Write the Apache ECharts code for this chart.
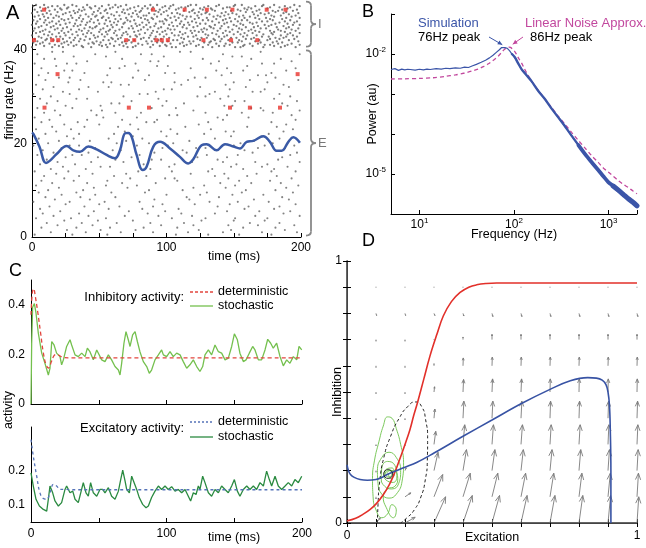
<!DOCTYPE html>
<html><head><meta charset="utf-8">
<script src="https://cdn.jsdelivr.net/npm/echarts@6/dist/echarts.min.js"></script>
<style>html,body{margin:0;padding:0;background:#fff}#c{width:646px;height:548px}</style>
</head><body><div id="c"></div>
<script>
// ---------- Panel A : raster (rows: firing rate, spike times in ms) ----------
const rasterRowsI = [
 [49.5,[3,9,24,30,41,57,62,70,88,93,105,118,122,139,151,156,172,180,195]],
 [49.25,[1,15,19,33,47,52,66,79,84,99,103,116,131,137,150,166,171,188,199]],
 [49.0,[6,12,27,38,43,60,64,76,90,97,111,114,128,145,147,161,177,184,192]],
 [48.75,[10,21,26,44,50,58,73,82,86,102,109,125,133,142,158,163,175,190]],
 [48.5,[2,17,22,35,39,55,68,71,89,95,107,120,127,134,153,160,169,186,197]],
 [48.25,[7,13,31,37,49,54,77,81,92,100,113,119,136,148,155,167,179,183,194]],
 [48.0,[4,19,28,34,46,63,67,80,94,98,117,124,130,144,159,164,181,189]],
 [47.75,[0,11,25,32,51,56,69,75,87,104,108,121,129,141,149,170,176,187,198]],
 [47.5,[8,14,23,40,45,59,72,78,91,96,110,126,132,146,152,165,173,191]],
 [47.25,[5,18,29,36,48,61,65,83,85,101,112,123,138,143,157,168,178,185,196]],
 [47.0,[2,9,20,42,47,53,74,79,93,106,115,118,135,140,154,162,180,193]],
 [46.75,[12,16,30,35,52,57,70,81,89,103,109,124,130,147,158,166,174,189,199]],
 [46.5,[6,22,27,38,44,62,66,84,90,99,114,121,137,144,151,169,177,186]],
 [46.25,[1,10,24,33,49,55,71,76,86,100,107,127,131,142,156,160,179,192]],
 [46.0,[4,15,20,37,43,58,64,73,95,97,111,119,134,148,153,171,175,188,197]],
 [45.75,[9,13,28,41,46,61,69,82,87,104,116,122,139,145,162,167,184,195]],
 [45.5,[3,18,25,32,50,54,68,77,92,98,110,125,129,143,155,164,181,190]],
 [45.25,[0,11,21,36,40,59,63,80,85,102,113,117,136,150,157,173,178,194,199]],
 [45.0,[7,16,31,34,48,56,74,78,91,105,108,123,132,141,152,168,176,187]],
 [44.75,[5,14,26,43,47,60,67,83,88,96,112,120,133,146,159,165,182,191]],
 [44.5,[2,19,23,39,45,53,72,75,94,101,115,128,135,140,154,170,174,189,198]],
 [44.25,[10,17,29,35,51,58,65,81,86,103,106,126,130,149,156,163,183,193]],
 [44.0,[1,8,22,37,42,57,62,79,90,99,118,121,138,144,161,166,177,185,196]],
 [43.75,[6,13,27,33,50,55,70,76,93,97,110,124,127,147,153,169,180,188]],
 [43.5,[3,20,24,41,44,61,68,84,89,104,114,119,134,142,158,164,178,192,199]],
 [43.25,[9,15,30,38,52,56,71,80,95,100,112,129,137,150,155,172,179,190]],
 [43.0,[0,12,25,34,46,63,67,77,88,106,109,122,131,145,160,167,185,194]],
 [42.75,[5,18,21,40,49,54,73,78,92,98,116,120,139,143,157,171,176,189,197]],
 [42.5,[7,14,28,32,47,59,66,83,87,102,111,126,130,148,152,165,181,187]],
 [42.25,[2,11,23,36,43,60,64,81,91,96,113,123,135,141,159,163,177,184,195]],
 [42.0,[10,16,31,39,53,57,72,76,94,105,108,125,136,146,154,169,175,191]],
 [41.75,[4,19,26,35,48,62,69,85,89,101,117,120,133,140,156,166,182,198]],
 [41.5,[1,8,24,29,45,51,67,74,93,97,112,128,132,149,153,170,179,186]],
 [41.25,[6,13,22,42,46,58,70,79,86,103,110,118,137,144,162,168,183,193]],
 [41.0,[3,17,27,33,50,55,65,82,90,99,115,124,131,147,158,173,177,190,199]],
 [40.75,[9,20,31,37,52,61,68,77,95,100,113,122,139,143,157,164,180,188]],
 [40.5,[0,15,23,38,44,56,71,75,88,104,107,127,134,151,155,172,185,196]]
];
const rasterRowsE = [
 [39.5,[15,23,62,110,118,170]],[39.0,[4,47,81,89,142,199]],[38.5,[31,55,98,149,156]],
 [38.0,[9,17,67,127,163,185]],[37.5,[41,88,94,139,193]],[37.0,[2,26,33,77,133,171,180]],
 [36.5,[18,69,93,101,160]],[36.0,[7,58,65,118,145,196]],[35.5,[24,30,79,137,157,189]],
 [35.0,[12,39,99,106,148,178]],[34.5,[5,56,87,141,168,174]],[34.0,[20,28,75,121,129,181]],
 [33.5,[10,36,84,116,162,198]],[33.0,[27,53,59,106,150,175]],[32.5,[3,66,72,111,144,187]],
 [32.0,[16,42,57,125,159,191]],[31.5,[8,35,98,104,147,173]],[31.0,[23,49,92,136,164,170]],
 [30.5,[1,28,80,86,132,184]],[30.0,[14,68,123,129,146,192]],[29.5,[6,33,41,94,140,180]],
 [29.0,[19,74,100,151,158,197]],[28.5,[11,59,65,113,186]],[28.0,[25,51,97,143,149,190]],
 [27.5,[4,30,89,107,163,170]],[27.0,[17,44,52,120,172,199]],[26.5,[9,62,81,129,156,179]],
 [26.0,[21,48,102,108,145,193]],[25.5,[2,53,78,138,161]],[25.0,[13,41,67,93,142,196]],
 [24.5,[7,34,85,91,131,178]],[24.0,[24,50,73,124,189]],[23.5,[15,39,64,114,160,182]],
 [23.0,[3,29,79,103,133,194]],[22.5,[18,69,96,144,150,187]],[22.0,[10,35,61,108,128,176]],
 [21.5,[26,75,100,148,171]],[21.0,[5,31,57,82,136,184]],[20.5,[20,43,70,117,165,191]],
 [20.0,[12,63,87,105,155,179]],[19.5,[1,28,35,78,101,150,173,195]],[19.0,[22,47,97,122,129,168,188]],
 [18.5,[8,60,66,112,158,181]],[18.0,[16,42,91,115,164,197]],[17.5,[4,30,37,80,130,153,192]],
 [17.0,[25,49,74,123,145,186]],[16.5,[11,62,89,96,138,183]],[16.0,[19,44,68,119,142,166,199]],
 [15.5,[6,32,83,106,152,175]],[15.0,[23,51,58,102,148,171,190]],[14.5,[14,40,88,134,157,180]],
 [14.0,[2,27,79,104,131,178,196]],[13.5,[18,45,70,118,143,167]],[13.0,[9,35,61,85,136,160,182]],
 [12.5,[24,73,99,106,146,193]],[12.0,[7,31,56,108,154,177]],[11.5,[15,41,67,92,140,163,185]],
 [11.0,[3,55,78,128,151,198]],[10.5,[20,46,71,120,144,189]],[10.0,[12,38,87,112,159,181]],
 [9.5,[5,33,59,84,130,156,194]],[9.0,[22,47,100,125,149,172]],[8.5,[10,36,62,115,139,186]],
 [8.0,[17,43,91,117,165,191]],[7.5,[1,28,54,80,132,153,176]],[7.0,[25,50,97,121,147,196]],
 [6.5,[13,39,65,90,138,161,184]],[6.0,[6,57,82,109,158,180]],[5.5,[21,46,72,99,145,169,192]],
 [5.0,[8,35,86,111,136,187]],[4.5,[16,42,69,94,119,166,199]],[4.0,[3,29,55,104,129,151,175]],
 [3.5,[24,49,75,126,150,173]],[3.0,[11,37,63,88,113,162,184]],[2.5,[19,45,96,120,146,168,195]],
 [2.0,[7,33,58,83,108,157,181]],[1.5,[26,51,77,124,148,188]],[1.0,[14,40,66,90,116,142,171,197]],
 [0.5,[2,30,56,107,131,154,178]]
];
const redSpikes = [[9,48.5],[90,48.5],[113.5,48.5],[130,48.5],[149,48.5],[174.5,48.5],[188.5,48.5],
 [1.5,42],[15,42],[19.5,42],[70,42],[76,42],[92.5,42],[96.5,42],[101,42],[127.5,42],[148,42],[167.5,42],
 [19,34.75],[197.5,34.75],[9.3,27.6],[72,27.6],[87,27.6],[147.2,27.6],[162,27.6],[184.4,27.6]];
const rateT = [0,1,5.5,10.4,13.4,18.3,25.8,30.7,35.7,41.9,48.1,55.5,61.7,65.4,69.1,71.6,74.1,77.8,82.3,85.2,90.2,95.2,102.6,110,116.2,119.9,126.1,129.8,137.3,143.5,149.7,154.6,159.6,164.5,172,176.9,181.9,185.6,190.6,194.3,199.2];
const rateV = [22.3,22.0,19.3,15.8,16.3,17.7,19.4,18.5,18.2,19.3,18.7,17.5,16.8,18.5,22.1,22.2,21.4,17.5,14.3,15.0,19.3,20.3,18.9,17.1,15.7,16.6,19.6,19.8,18.5,19.8,19.3,18.9,20.3,20.5,21.5,20.3,18.4,18.4,20.3,21.3,20.1];

// ---------- Panel B : power spectra ----------
const simF = [5,5.5,6,6.5,7,7.5,8,9,10,11,12,13,15,17,19,21,24,27,30,33,36,40,45,50,55,60,65,70,74,77,80,85,90,95,102,110,120,135,153,180,212,250,294,350,406,480,562,660,778,880,993,1120,1260,1430,1620,1800,2000];
const simP = [4.1e-3,4.3e-3,3.9e-3,4.2e-3,4.0e-3,4.15e-3,4.1e-3,3.95e-3,4.15e-3,4.0e-3,4.2e-3,4.1e-3,4.3e-3,4.2e-3,4.4e-3,4.3e-3,4.5e-3,4.4e-3,4.7e-3,4.6e-3,5.0e-3,5.5e-3,6.2e-3,7.0e-3,8.0e-3,9.3e-3,1.1e-2,1.28e-2,1.45e-2,1.52e-2,1.45e-2,1.38e-2,1.2e-2,1.0e-2,8.3e-3,6.0e-3,4.2e-3,3.0e-3,2.1e-3,1.2e-3,7.5e-4,4.3e-4,2.6e-4,1.5e-4,9.1e-5,5.3e-5,3.2e-5,2.0e-5,1.26e-5,8.8e-6,6.3e-6,5.0e-6,4.0e-6,3.1e-6,2.4e-6,2.0e-6,1.6e-6];
const lnaF = [5,7,10,14,18.5,24,30,36,42,48,53,58,63,68,74,79,84,88,92,97,102,107,113,120,127,140,153,180,212,250,294,350,406,480,562,660,778,880,993,1120,1260,1430,1620,1800,2000];
const lnaP = [2.37e-3,2.4e-3,2.45e-3,2.55e-3,2.75e-3,3.0e-3,3.35e-3,3.75e-3,4.22e-3,4.9e-3,5.6e-3,6.5e-3,7.5e-3,8.8e-3,1.1e-2,1.3e-2,1.42e-2,1.48e-2,1.46e-2,1.3e-2,1.15e-2,9.5e-3,7.5e-3,6.0e-3,4.6e-3,3.0e-3,2.14e-3,1.25e-3,7.5e-4,4.6e-4,2.8e-4,1.7e-4,1.1e-4,6.9e-5,4.5e-5,2.9e-5,1.95e-5,1.42e-5,1.12e-5,8.8e-6,6.9e-6,5.5e-6,4.6e-6,3.8e-6,3.2e-6];
const bXTicks = [10,100,1000];
const bYLabels = [-2,-5];

// ---------- Panel C : activity time courses ----------
const inhDetT = [0,1,2,3,5,7,9,11,13,15,17,19,21,24,30,200];
const inhDetV = [0.36,0.45,0.465,0.44,0.37,0.29,0.21,0.16,0.145,0.17,0.195,0.2,0.195,0.187,0.186,0.186];
const inhStoT = [0,0.5,1.2,2.5,3.7,5.4,7.9,10.3,12.8,14,15.3,17,18.9,21.4,22.6,23.9,26.3,28.8,30,32.5,34.9,37.4,39.9,41.6,43.5,46,48.5,49.7,52.2,54.6,57.1,59.5,62,64.5,65.7,66.9,68.6,70.1,71.8,73.1,75,76.8,78.5,80.4,82.9,85.4,87.3,89,91.5,94,96.4,97.7,100.1,102.6,105,107.5,110,112.4,114.9,117.3,119.8,122.3,124.7,126.7,128.4,130.9,133.3,135.8,138.3,140.7,143.2,145.6,148.1,150.1,152.3,154.2,156.7,158.7,161.1,163.6,165.3,167.8,170.2,172.7,174.7,176.9,178.8,181.3,183.8,186.2,188.7,191.1,193.6,196.1,197.8,199.8];
const inhStoV = [0,0.245,0.39,0.405,0.366,0.286,0.205,0.164,0.117,0.144,0.252,0.238,0.205,0.191,0.158,0.178,0.232,0.259,0.238,0.198,0.191,0.205,0.191,0.225,0.211,0.178,0.218,0.211,0.178,0.171,0.198,0.178,0.151,0.137,0.117,0.164,0.245,0.292,0.259,0.232,0.279,0.292,0.252,0.211,0.171,0.151,0.124,0.137,0.178,0.198,0.218,0.198,0.191,0.211,0.191,0.205,0.198,0.171,0.144,0.158,0.178,0.151,0.131,0.151,0.198,0.218,0.198,0.238,0.211,0.205,0.178,0.185,0.232,0.283,0.259,0.205,0.171,0.178,0.205,0.232,0.218,0.178,0.178,0.218,0.261,0.245,0.225,0.245,0.191,0.154,0.178,0.164,0.191,0.178,0.232,0.218];
const excDetT = [0,1.7,4.2,6.6,9.1,11.6,14,16.5,18.9,21.4,25,30,200];
const excDetV = [0.293,0.244,0.185,0.136,0.119,0.117,0.136,0.161,0.156,0.146,0.146,0.145,0.145];
const excStoT = [0,1.7,3.7,6.2,9.1,11.6,12.8,14,16,17.7,20.2,22.6,25.1,26.3,28.8,30.8,32.5,34.9,36.7,38.6,40.6,42.3,44,46,48.5,50.9,52.9,54.6,57.1,59.5,62,64.5,66.2,67.7,69.4,70.6,72.6,74.3,75.5,78,79.9,82.4,84.9,86.6,89,91.5,94,96.4,98.9,101.3,103.8,106.3,108.7,111.2,113.7,116.1,117.8,119.8,121.8,123.5,124.7,126.7,128.4,130.9,133.3,135.8,138.3,140.7,143.2,145.6,148.1,150.1,152.3,154.2,156.7,159.2,161.6,164.1,166.5,169,171.5,173.9,175.9,177.6,180.1,182.5,185,187.5,189.9,192.4,194.8,197.3,199.8];
const excStoV = [0.195,0.156,0.117,0.097,0.087,0.082,0.117,0.156,0.136,0.112,0.097,0.107,0.146,0.156,0.136,0.141,0.117,0.107,0.136,0.166,0.136,0.126,0.166,0.136,0.126,0.146,0.146,0.136,0.151,0.126,0.117,0.141,0.175,0.203,0.171,0.146,0.136,0.185,0.187,0.146,0.122,0.102,0.092,0.097,0.122,0.141,0.156,0.146,0.156,0.146,0.154,0.141,0.146,0.136,0.146,0.126,0.112,0.136,0.131,0.156,0.146,0.185,0.166,0.136,0.126,0.146,0.136,0.156,0.146,0.136,0.156,0.175,0.141,0.126,0.146,0.156,0.146,0.156,0.146,0.166,0.156,0.2,0.175,0.156,0.185,0.156,0.146,0.156,0.166,0.156,0.175,0.166,0.185];

// ---------- Panel D : phase plane ----------
const redNull = [[0,0.008],[0.03,0.018],[0.056,0.034],[0.08,0.052],[0.102,0.075],[0.125,0.108],[0.145,0.145],[0.16,0.18],[0.177,0.229],[0.2,0.3],[0.217,0.356],[0.23,0.41],[0.243,0.459],[0.265,0.55],[0.286,0.637],[0.31,0.72],[0.332,0.79],[0.36,0.845],[0.39,0.88],[0.42,0.9],[0.447,0.909],[0.48,0.914],[0.516,0.916],[1,0.916]];
const blueNull = [[0,0.222],[0.005,0.2],[0.012,0.185],[0.025,0.174],[0.045,0.166],[0.07,0.163],[0.1,0.166],[0.12,0.174],[0.142,0.187],[0.2,0.213],[0.24,0.231],[0.3,0.267],[0.4,0.331],[0.5,0.393],[0.6,0.455],[0.7,0.51],[0.77,0.543],[0.83,0.555],[0.86,0.553],[0.88,0.545],[0.893,0.528],[0.9,0.5],[0.905,0.45],[0.908,0.35],[0.91,0.2],[0.91,0]];
const ellipsePts = [[0.105,0.0],[0.107,0.07],[0.113,0.16],[0.127,0.25],[0.15,0.33],[0.18,0.4],[0.21,0.445],[0.236,0.462],[0.257,0.445],[0.271,0.395],[0.278,0.32],[0.277,0.24],[0.27,0.165],[0.255,0.1],[0.232,0.05],[0.205,0.018],[0.185,0.0]];
const greenTraj = [[0.142,0.19],[0.15,0.17],[0.163,0.185],[0.155,0.21],[0.135,0.205],[0.128,0.18],[0.14,0.16],[0.16,0.155],[0.172,0.18],[0.165,0.22],[0.14,0.235],[0.12,0.21],[0.118,0.17],[0.13,0.14],[0.155,0.13],[0.178,0.15],[0.185,0.2],[0.17,0.25],[0.145,0.27],[0.12,0.25],[0.105,0.2],[0.107,0.15],[0.12,0.11],[0.145,0.095],[0.17,0.11],[0.19,0.16],[0.195,0.23],[0.185,0.3],[0.17,0.36],[0.155,0.4],[0.14,0.405],[0.125,0.37],[0.11,0.31],[0.095,0.24],[0.088,0.17],[0.09,0.1],[0.1,0.05],[0.12,0.02],[0.14,0.035],[0.155,0.07],[0.17,0.05],[0.16,0.02],[0.135,0.06],[0.125,0.1],[0.14,0.13],[0.165,0.14],[0.175,0.17],[0.16,0.2],[0.14,0.2],[0.132,0.185],[0.145,0.175],[0.155,0.19],[0.146,0.2],[0.137,0.19]];
const fixedPoint = [[0.142,0.187]];
const quiverXs = [0.1,0.2,0.3,0.4,0.5,0.6,0.7,0.8,0.9,1.0];
const quiverYs = [0,0.1,0.2,0.3,0.4,0.5,0.6,0.7,0.8,0.9];
const quiverU = [
 [0.015,0.035,0.04,0.032,0.026,0.021,0.017,0.013,0.009,0.006],
 [0,0.02,0.03,0.025,0.02,0.016,0.013,0.01,0.008,0.005],
 [0,0.004,0.014,0.012,0.01,0.008,0.007,0.006,0.005,0.004],
 [0,0,0.006,0.006,0.005,0.005,0.004,0.004,0.003,0.003],
 [0,0,0.003,0.003,0.003,0.003,0.002,0.002,0.002,0.002],
 [0,0,0.002,0.002,0.002,0.002,0.001,0.001,0.001,0.001],
 [0,0,0,0.001,0.001,0.001,0.001,0.001,0.001,0.001],
 [0,0,0,0,0,0,0,0,0,0],
 [0.002,0.002,0.003,0.003,0.003,0.003,0.003,0.003,0.003,0.003],
 [0.001,0.001,0.001,0.001,0.001,0.001,0.001,0.001,0.001,0.001]];
const quiverV = [
 [0.02,0.022,0.1,0.105,0.105,0.105,0.105,0.105,0.105,0.1],
 [-0.008,0.015,0.085,0.09,0.09,0.09,0.09,0.09,0.09,0.09],
 [-0.006,0.01,0.07,0.08,0.08,0.08,0.08,0.08,0.08,0.08],
 [-0.006,-0.005,0.05,0.075,0.075,0.075,0.075,0.075,0.075,0.075],
 [-0.006,-0.006,0.035,0.065,0.065,0.065,0.065,0.065,0.065,0.065],
 [-0.006,-0.006,0.02,0.048,0.05,0.05,0.05,0.05,0.05,0.05],
 [-0.006,-0.006,0.008,0.03,0.033,0.033,0.033,0.033,0.033,0.033],
 [-0.006,-0.006,-0.004,0.01,0.02,0.02,0.02,0.02,0.02,0.02],
 [-0.008,-0.008,-0.008,-0.01,-0.012,-0.012,-0.012,-0.012,-0.012,-0.012],
 [-0.004,-0.004,-0.004,-0.004,-0.004,-0.004,-0.004,-0.004,-0.004,-0.004]];

// ---------- build ----------
const FONT = 'Liberation Sans, Arial, sans-serif';
const zip = (a, b) => a.map((v, i) => [v, b[i]]);
const rows2pts = rows => rows.flatMap(([y, ts]) => ts.map(t => [t, y]));
const quiverData = [];
quiverYs.forEach((y, r) => quiverXs.forEach((x, c) => quiverData.push([x, y, quiverU[r][c], quiverV[r][c]])));
const near = (v, arr) => arr.some(a => Math.abs(v - a) < 1e-6);

const axLine = {lineStyle: {color: '#000', width: 1}};
const tickIn = {inside: true, length: 4, lineStyle: {color: '#000'}};
const lab = {color: '#000', fontSize: 12, fontFamily: FONT};
const noSplit = {show: false};
const supRich = {a: {fontSize: 12, fontFamily: FONT, color: '#000'}, b: {fontSize: 8, fontFamily: FONT, color: '#000', padding: [0, 0, 8, 0]}};

const option = {
  animation: false,
  backgroundColor: '#fff',
  textStyle: {fontFamily: FONT},
  grid: [
    {left: 32, top: 5, width: 269, height: 232},
    {left: 391, top: 14, width: 246, height: 200},
    {left: 31, top: 280, width: 271, height: 124},
    {left: 31, top: 427, width: 271, height: 95},
    {left: 347, top: 261, width: 290, height: 262}
  ],
  xAxis: [
    {gridIndex: 0, type: 'value', min: 0, max: 200, interval: 25, axisLine: axLine, axisTick: tickIn, splitLine: noSplit,
     axisLabel: Object.assign({}, lab, {margin: 5, formatter: v => (v % 100 === 0 ? String(v) : '')})},
    {gridIndex: 1, type: 'log', logBase: 10, min: 5, max: 2000, axisLine: axLine, axisTick: tickIn, splitLine: noSplit,
     name: 'Frequency (Hz)', nameLocation: 'middle', nameGap: 14, nameMoveOverlap: false,
     nameTextStyle: {fontSize: 12.5, color: '#000', fontFamily: FONT},
     axisLabel: Object.assign({}, lab, {margin: 3, rich: supRich, formatter: v => {
       const e = Math.log10(v), r = Math.round(e);
       return (Math.abs(e - r) < 1e-6 && near(Math.pow(10, r), bXTicks)) ? '{a|10}{b|' + r + '}' : '';
     }})},
    {gridIndex: 2, type: 'value', min: 0, max: 200, interval: 50, axisLine: axLine, axisTick: tickIn, splitLine: noSplit, axisLabel: {show: false}},
    {gridIndex: 3, type: 'value', min: 0, max: 200, interval: 50, axisLine: axLine, axisTick: tickIn, splitLine: noSplit,
     axisLabel: Object.assign({}, lab, {margin: 6, formatter: v => (v % 100 === 0 ? String(v) : '')})},
    {gridIndex: 4, type: 'value', min: 0, max: 1, interval: 0.1, axisLine: {lineStyle: {color: '#333', width: 1.5}}, axisTick: tickIn, splitLine: noSplit,
     name: 'Excitation', nameLocation: 'middle', nameGap: 8, nameMoveOverlap: false,
     nameTextStyle: {fontSize: 12.5, color: '#000', fontFamily: FONT},
     axisLabel: Object.assign({}, lab, {margin: 7, formatter: v => (near(v, [0, 1]) ? String(Math.round(v)) : '')})},
    {gridIndex: 4, type: 'value', position: 'top', min: 0, max: 1, interval: 0.1, axisLine: {lineStyle: {color: '#444', width: 1}}, axisTick: tickIn, splitLine: noSplit, axisLabel: {show: false}}
  ],
  yAxis: [
    {gridIndex: 0, type: 'value', min: 0, max: 49.5, interval: 10, axisLine: axLine, axisTick: tickIn, splitLine: noSplit,
     axisLabel: Object.assign({}, lab, {margin: 5, formatter: v => (v % 20 === 0 ? String(v) : '')})},
    {gridIndex: 1, type: 'log', logBase: 10, min: 1e-6, max: 1e-1, axisLine: axLine, axisTick: tickIn, splitLine: noSplit,
     name: 'Power (au)', nameLocation: 'middle', nameGap: 12, nameMoveOverlap: false,
     nameTextStyle: {fontSize: 12.5, color: '#000', fontFamily: FONT},
     axisLabel: Object.assign({}, lab, {margin: 5, rich: supRich, formatter: v => {
       const e = Math.log10(v), r = Math.round(e);
       return (Math.abs(e - r) < 1e-6 && near(r, bYLabels)) ? '{a|10}{b|' + r + '}' : '';
     }})},
    {gridIndex: 2, type: 'value', min: 0, max: 0.5, interval: 0.1, axisLine: axLine, axisTick: {show: false}, splitLine: noSplit,
     axisLabel: Object.assign({}, lab, {margin: 6, formatter: v => (near(v, [0, 0.2, 0.4]) ? String(Math.round(v * 10) / 10) : '')})},
    {gridIndex: 3, type: 'value', min: 0.05, max: 0.33, interval: 0.05, axisLine: axLine, axisTick: {show: false}, splitLine: noSplit,
     axisLabel: Object.assign({}, lab, {margin: 6, formatter: v => (near(v, [0.1, 0.2]) ? String(Math.round(v * 10) / 10) : '')})},
    {gridIndex: 4, type: 'value', min: 0, max: 1, interval: 0.1, axisLine: {lineStyle: {color: '#333', width: 1.5}}, axisTick: tickIn, splitLine: noSplit,
     name: 'Inhibition', nameLocation: 'middle', nameGap: 3, nameMoveOverlap: false,
     nameTextStyle: {fontSize: 12.5, color: '#000', fontFamily: FONT},
     axisLabel: Object.assign({}, lab, {margin: 5, formatter: v => (near(v, [0, 1]) ? String(Math.round(v)) : '')})},
    {gridIndex: 4, type: 'value', position: 'right', min: 0, max: 1, interval: 0.1, axisLine: {lineStyle: {color: '#444', width: 1}}, axisTick: tickIn, splitLine: noSplit, axisLabel: {show: false}}
  ],
  series: [
    // A
    {type: 'scatter', xAxisIndex: 0, yAxisIndex: 0, data: rows2pts(rasterRowsE), symbolSize: 2.1, itemStyle: {color: '#646464'}, silent: true},
    {type: 'scatter', xAxisIndex: 0, yAxisIndex: 0, data: rows2pts(rasterRowsI), symbolSize: 2.3, itemStyle: {color: '#5c5c5c'}, silent: true},
    {type: 'scatter', xAxisIndex: 0, yAxisIndex: 0, data: redSpikes, symbol: 'rect', symbolSize: 4, itemStyle: {color: '#e8322c'}, z: 4},
    {type: 'line', xAxisIndex: 0, yAxisIndex: 0, data: zip(rateT, rateV), smooth: 0.4, showSymbol: false, lineStyle: {color: '#3a5aa6', width: 2.5}, z: 5},
    // B
    {type: 'line', xAxisIndex: 1, yAxisIndex: 1, data: zip(lnaF, lnaP), smooth: 0.3, showSymbol: false, lineStyle: {color: '#c2489e', width: 1.3, type: [4, 3]}, z: 3},
    {type: 'line', xAxisIndex: 1, yAxisIndex: 1, data: zip(simF, simP), showSymbol: false, lineStyle: {color: '#3b55a8', width: 1.2}, z: 4},
    {type: 'line', xAxisIndex: 1, yAxisIndex: 1, data: zip(simF, simP).filter(d => d[0] >= 95), smooth: 0.3, showSymbol: false, lineStyle: {color: '#3b55a8', width: 2.4, cap: 'round'}, z: 4},
    {type: 'line', xAxisIndex: 1, yAxisIndex: 1, data: zip(simF, simP).filter(d => d[0] >= 480), smooth: 0.3, showSymbol: false, lineStyle: {color: '#3b55a8', width: 3.8, cap: 'round'}, z: 4},
    {type: 'line', xAxisIndex: 1, yAxisIndex: 1, data: zip(simF, simP).filter(d => d[0] >= 1120), smooth: 0.3, showSymbol: false, lineStyle: {color: '#3b55a8', width: 5, cap: 'round'}, z: 4},
    // C upper
    {type: 'line', xAxisIndex: 2, yAxisIndex: 2, data: zip(inhStoT, inhStoV), showSymbol: false, lineStyle: {color: '#74c04e', width: 1.3}, z: 3},
    {type: 'line', xAxisIndex: 2, yAxisIndex: 2, data: zip(inhDetT, inhDetV), smooth: 0.4, showSymbol: false, lineStyle: {color: '#e2453e', width: 1.3, type: [4, 3]}, z: 4},
    // C lower
    {type: 'line', xAxisIndex: 3, yAxisIndex: 3, data: zip(excStoT, excStoV), showSymbol: false, lineStyle: {color: '#2a8a40', width: 1.3}, z: 3},
    {type: 'line', xAxisIndex: 3, yAxisIndex: 3, data: zip(excDetT, excDetV), smooth: 0.4, showSymbol: false, lineStyle: {color: '#5573b8', width: 1.3, type: [3, 3]}, z: 4},
    // D
    {type: 'custom', xAxisIndex: 4, yAxisIndex: 4, data: quiverData, silent: true, z: 2,
     renderItem: (params, api) => {
       const x = api.value(0), y = api.value(1), u = api.value(2), v = api.value(3);
       const p0 = api.coord([x, y]), p1 = api.coord([x + u, y + v]);
       const dx = p1[0] - p0[0], dy = p1[1] - p0[1], L = Math.hypot(dx, dy);
       if (L < 1.2) return {type: 'circle', shape: {cx: p0[0], cy: p0[1], r: 0.6}, style: {fill: '#999'}};
       const h = Math.min(L * 0.33, 7), a = Math.atan2(dy, dx), w = 0.38;
       const h1 = [p1[0] - h * Math.cos(a - w), p1[1] - h * Math.sin(a - w)];
       const h2 = [p1[0] - h * Math.cos(a + w), p1[1] - h * Math.sin(a + w)];
       return {type: 'group', children: [
         {type: 'line', shape: {x1: p0[0], y1: p0[1], x2: p1[0], y2: p1[1]}, style: {stroke: '#7a7a7a', lineWidth: 0.9}},
         {type: 'polyline', shape: {points: [h1, p1, h2]}, style: {stroke: '#7a7a7a', lineWidth: 0.9, fill: null}}
       ]};
     }},
    {type: 'line', xAxisIndex: 4, yAxisIndex: 4, data: greenTraj, smooth: 0.5, showSymbol: false, lineStyle: {color: '#6cc24a', width: 0.9}, z: 3},
    {type: 'line', xAxisIndex: 4, yAxisIndex: 4, data: ellipsePts, smooth: 0.6, showSymbol: false, lineStyle: {color: '#222', width: 1, type: [3, 2.5]}, z: 4},
    {type: 'line', xAxisIndex: 4, yAxisIndex: 4, data: redNull, smooth: 0.4, showSymbol: false, lineStyle: {color: '#e2302a', width: 1.6}, z: 5},
    {type: 'line', xAxisIndex: 4, yAxisIndex: 4, data: blueNull, smooth: 0.4, showSymbol: false, lineStyle: {color: '#3853a4', width: 1.6}, z: 5},
    {type: 'scatter', xAxisIndex: 4, yAxisIndex: 4, data: fixedPoint, symbol: 'circle', symbolSize: 9, itemStyle: {color: 'rgba(0,0,0,0)', borderColor: '#111', borderWidth: 1}, z: 6}
  ]
};

const chart = echarts.init(document.getElementById('c'), null, {renderer: 'canvas'});
chart.setOption(option);

// ---------- annotations ----------
const g = [];
const txt = (x, y, text, opt) => g.push({type: 'text', x, y, style: Object.assign({text, fill: '#000', font: '12.5px ' + FONT, align: 'left', verticalAlign: 'middle'}, opt || {})});
const line = (x1, y1, x2, y2, stroke, dash, lw) => g.push({type: 'line', shape: {x1, y1, x2, y2}, style: {stroke, lineWidth: lw || 1.3, lineDash: dash || null}});
const arrow = (x1, y1, x2, y2, c) => {
  line(x1, y1, x2, y2, c, null, 1);
  const a = Math.atan2(y2 - y1, x2 - x1), h = 5, w = 0.45;
  g.push({type: 'polygon', shape: {points: [[x2, y2], [x2 - h * Math.cos(a - w), y2 - h * Math.sin(a - w)], [x2 - h * Math.cos(a + w), y2 - h * Math.sin(a + w)]]}, style: {fill: c}});
};
// panel letters
txt(6, 13, 'A', {font: '20px ' + FONT});
txt(362, 12, 'B', {font: '18px ' + FONT});
txt(9, 271, 'C', {font: '18px ' + FONT});
txt(362, 241, 'D', {font: '18px ' + FONT});
// A axis titles
g.push({type: 'text', x: 10, y: 100, rotation: Math.PI / 2, style: {text: 'firing rate (Hz)', font: '12.5px ' + FONT, fill: '#000', align: 'center', verticalAlign: 'middle'}});
txt(234, 257, 'time (ms)', {align: 'center'});
// A braces built from curve + line pieces
const brace = (xL, yTop, yBot, w, label) => {
  const r = 4, xm = xL + w / 2, mid = (yTop + yBot) / 2, st = {stroke: '#888', lineWidth: 1.8, fill: null};
  g.push({type: 'bezierCurve', shape: {x1: xL, y1: yTop, cpx1: xm, cpy1: yTop, x2: xm, y2: yTop + r}, style: st});
  g.push({type: 'line', shape: {x1: xm, y1: yTop + r, x2: xm, y2: mid - r}, style: st});
  g.push({type: 'bezierCurve', shape: {x1: xm, y1: mid - r, cpx1: xm, cpy1: mid, x2: xL + w, y2: mid}, style: st});
  g.push({type: 'bezierCurve', shape: {x1: xL + w, y1: mid, cpx1: xm, cpy1: mid, x2: xm, y2: mid + r}, style: st});
  g.push({type: 'line', shape: {x1: xm, y1: mid + r, x2: xm, y2: yBot - r}, style: st});
  g.push({type: 'bezierCurve', shape: {x1: xm, y1: yBot - r, cpx1: xm, cpy1: yBot, x2: xL, y2: yBot}, style: st});
  txt(xL + w + 2, mid, label, {fill: '#777', font: '13px ' + FONT});
};
const pI1 = chart.convertToPixel({gridIndex: 0}, [200, 50.2]);
const pI2 = chart.convertToPixel({gridIndex: 0}, [200, 40.6]);
const pE1 = chart.convertToPixel({gridIndex: 0}, [200, 39.8]);
const pE2 = chart.convertToPixel({gridIndex: 0}, [200, 0.3]);
brace(pI1[0] + 5, pI1[1], pI2[1], 10, 'I');
brace(pE1[0] + 5, pE1[1], pE2[1], 10, 'E');
// B annotations
txt(418, 23, 'Simulation', {fill: '#3b55a8', font: '13px ' + FONT});
txt(418, 37, '76Hz peak', {font: '13px ' + FONT});
txt(525, 23, 'Linear Noise Approx.', {fill: '#c2489e', font: '13px ' + FONT});
txt(530, 37, '86Hz peak', {font: '13px ' + FONT});
const simPeak = chart.convertToPixel({gridIndex: 1}, [77, 1.52e-2]);
const lnaPeak = chart.convertToPixel({gridIndex: 1}, [88, 1.48e-2]);
arrow(489, 37, simPeak[0] - 1, simPeak[1] - 2, '#3b55a8');
arrow(523, 37, lnaPeak[0] + 4, lnaPeak[1] - 3, '#c2489e');
// C legends and titles
txt(184, 297, 'Inhibitory activity:', {align: 'right', font: '13px ' + FONT});
line(190, 292, 213, 292, '#e2453e', [3, 2]);
txt(218, 292, 'deterministic');
line(190, 306, 213, 306, '#74c04e');
txt(218, 306, 'stochastic');
txt(184, 428, 'Excitatory activity:', {align: 'right', font: '13px ' + FONT});
line(190, 422, 213, 422, '#5573b8', [2, 2]);
txt(218, 422, 'deterministic');
line(190, 437, 213, 437, '#2a8a40');
txt(218, 437, 'stochastic');
g.push({type: 'text', x: 9, y: 410, rotation: Math.PI / 2, style: {text: 'activity', font: '12.5px ' + FONT, fill: '#000', align: 'center', verticalAlign: 'middle'}});
txt(234, 538, 'time (ms)', {align: 'center'});
chart.setOption({graphic: g});
</script></body></html>
